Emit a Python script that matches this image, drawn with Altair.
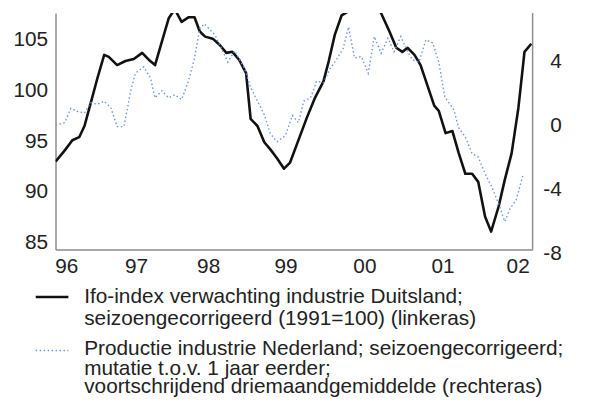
import altair as alt
import pandas as pd

# ---- data (decimal year, value) ----
black_t = [1995.93, 1996.05, 1996.15, 1996.24, 1996.31, 1996.39, 1996.48, 1996.57, 1996.63, 1996.74,
           1996.85, 1996.96, 1997.07, 1997.16, 1997.24, 1997.33, 1997.42, 1997.50, 1997.59, 1997.68,
           1997.76, 1997.83, 1997.90, 1998.00, 1998.09, 1998.18, 1998.26, 1998.35, 1998.44, 1998.50,
           1998.59, 1998.68, 1998.76, 1998.85, 1998.94, 1999.02, 1999.16, 1999.24, 1999.35, 1999.46,
           1999.53, 1999.61, 1999.70, 1999.79, 1999.90, 2000.03, 2000.13, 2000.22, 2000.33, 2000.42,
           2000.50, 2000.57, 2000.66, 2000.74, 2000.83, 2000.92, 2000.98, 2001.07, 2001.16, 2001.24,
           2001.33, 2001.42, 2001.50, 2001.59, 2001.67, 2001.77, 2001.85, 2001.94, 2002.03, 2002.11,
           2002.20]
black_v = [93.0, 94.1, 95.1, 95.4, 96.5, 98.7, 101.2, 103.5, 103.3, 102.5,
           102.9, 103.1, 103.7, 103.0, 102.5, 104.8, 107.1, 108.0, 106.75, 107.2,
           107.2, 105.8, 105.3, 105.1, 104.5, 103.7, 103.8, 103.0, 101.7, 97.2,
           96.5, 94.9, 94.2, 93.3, 92.3, 92.9, 95.7, 97.3, 99.3, 100.9,
           102.9, 105.5, 107.4, 107.8, 108.8, 109.5, 108.6, 107.6, 105.8, 104.2,
           103.8, 104.2, 103.5, 102.5, 100.5, 98.5, 98.0, 95.8, 96.0, 93.9,
           91.8, 91.8, 91.0, 87.6, 86.1, 88.6, 91.2, 93.8, 98.3, 103.8,
           104.6]

blue_t = [1995.93, 1996.05, 1996.13, 1996.22, 1996.31, 1996.39, 1996.48, 1996.57, 1996.66, 1996.74,
          1996.83, 1996.92, 1996.98, 1997.09, 1997.18, 1997.24, 1997.33, 1997.42, 1997.50, 1997.59,
          1997.68, 1997.76, 1997.83, 1997.89, 1998.03, 1998.11, 1998.20, 1998.29, 1998.42, 1998.50,
          1998.59, 1998.68, 1998.76, 1998.85, 1998.96, 1999.05, 1999.13, 1999.20, 1999.29, 1999.37,
          1999.46, 1999.55, 1999.63, 1999.72, 1999.79, 1999.87, 1999.96, 2000.05, 2000.13, 2000.22,
          2000.31, 2000.39, 2000.48, 2000.57, 2000.63, 2000.72, 2000.81, 2000.90, 2000.98, 2001.06,
          2001.18, 2001.24, 2001.33, 2001.42, 2001.50, 2001.59, 2001.68, 2001.77, 2001.85, 2001.92,
          2002.00, 2002.09]
blue_v = [0.05, 0.2, 1.1, 0.9, 0.8, 1.45, 1.35, 1.55, 1.1, -0.05,
          -0.05, 2.2, 3.3, 3.7, 3.0, 1.75, 2.2, 1.75, 1.95, 1.65,
          2.8, 4.25, 6.1, 6.4, 5.7, 4.9, 4.0, 4.7, 3.6, 2.4,
          1.55, 0.7, -0.5, -1.0, -0.6, 0.65, 0.2, 1.55, 1.75, 2.8,
          2.7, 3.6, 4.15, 4.85, 6.2, 4.25, 4.35, 3.3, 5.6, 4.55,
          5.5, 4.65, 5.6, 4.65, 4.15, 4.0, 5.4, 5.2, 4.0, 1.8,
          1.0, -0.1, -0.7, -1.75, -1.95, -3.0, -3.85, -4.9, -6.0, -5.2,
          -4.65, -3.1]

year_ticks = [1996.07, 1996.99, 1997.94, 1998.96, 2000.0, 2001.03, 2002.02]
left_ticks = [85, 90, 95, 100, 105]
right_ticks = [-8, -4, 0, 4]

legend_black = ["Ifo-index verwachting industrie Duitsland;",
                "seizoengecorrigeerd (1991=100) (linkeras)"]
legend_blue = ["Productie industrie Nederland; seizoengecorrigeerd;",
               "mutatie t.o.v. 1 jaar eerder;",
               "voortschrijdend driemaandgemiddelde (rechteras)"]

# ---- layout / style ----
W, H = 482, 239
FONT = "Liberation Sans"
FS = 21
AXIS_GREY = "#8c8c8c"
TXT = "#222222"
BLUE = "#6b95e0"

df_black = pd.DataFrame({"t": black_t, "v": black_v})
df_blue = pd.DataFrame({"t": blue_t, "v": blue_v})
one = alt.Data(values=[{"k": 0}])

xscale = alt.Scale(domain=[1995.928, 2002.217], nice=False, zero=False)
xaxis = alt.Axis(values=year_ticks, labelExpr="substring(toString(round(datum.value)), 2)",
                 grid=False, ticks=False, tickSize=0, domainColor=AXIS_GREY, domainWidth=1.5,
                 labelFont=FONT, labelFontSize=FS, labelColor=TXT, labelPadding=6,
                 labelFlush=False, labelOverlap=False, title=None)

black = alt.Chart(df_black).mark_line(color="#111111", strokeWidth=2.6, clip=True,
                                      strokeJoin="round").encode(
    x=alt.X("t:Q", scale=xscale, axis=xaxis),
    y=alt.Y("v:Q", scale=alt.Scale(domain=[84.34, 107.63], nice=False, zero=False),
            axis=alt.Axis(orient="left", values=left_ticks, grid=False, ticks=False, tickSize=0,
                          domainColor=AXIS_GREY, domainWidth=1.5, labelFont=FONT,
                          labelFontSize=FS, labelColor=TXT, labelPadding=8, title=None)),
)

blue = alt.Chart(df_blue).mark_line(color=BLUE, strokeWidth=1.4, strokeDash=[1.5, 2.5],
                                    clip=True).encode(
    x=alt.X("t:Q", scale=xscale),
    y=alt.Y("v:Q", scale=alt.Scale(domain=[-8, 7.08], range=[242.87, 0], nice=False, zero=False),
            axis=alt.Axis(orient="right", values=right_ticks, grid=False, ticks=False, tickSize=0,
                          domain=False, labelFont=FONT, labelFontSize=FS, labelColor=TXT,
                          labelExpr="toString(datum.value)",
                          labelAlign="right", labelPadding=29, title=None)),
)

right_border = alt.Chart(one).mark_rule(color=AXIS_GREY, strokeWidth=1.5).encode(
    x=alt.value(W), y=alt.value(0), y2=alt.value(H))

leg_black_line = alt.Chart(one).mark_rule(color="#111111", strokeWidth=2.5).encode(
    x=alt.value(-20), x2=alt.value(13), y=alt.value(287))
leg_blue_line = alt.Chart(one).mark_rule(color=BLUE, strokeWidth=1.4, strokeDash=[1.5, 2.5]).encode(
    x=alt.value(-20), x2=alt.value(13), y=alt.value(341))

def leg_text(txt, y):
    return alt.Chart(one).mark_text(align="left", baseline="middle", font=FONT, fontSize=FS,
                                    color=TXT).encode(
        x=alt.value(29), y=alt.value(y), text=alt.value(txt))

texts = [leg_text(legend_black[0], 287), leg_text(legend_black[1], 309),
         leg_text(legend_blue[0], 340), leg_text(legend_blue[1], 360),
         leg_text(legend_blue[2], 378)]

chart = alt.layer(black, blue, right_border, leg_black_line, leg_blue_line, *texts).resolve_scale(
    y="independent"
).properties(
    width=W, height=H,
    autosize=alt.AutoSizeParams(type="none"),
    padding={"left": 48, "top": 3, "right": 60, "bottom": 148},
    background="white",
).configure_view(stroke=None)

chart.save("out.html", embed_options={"renderer": "svg", "actions": False})
